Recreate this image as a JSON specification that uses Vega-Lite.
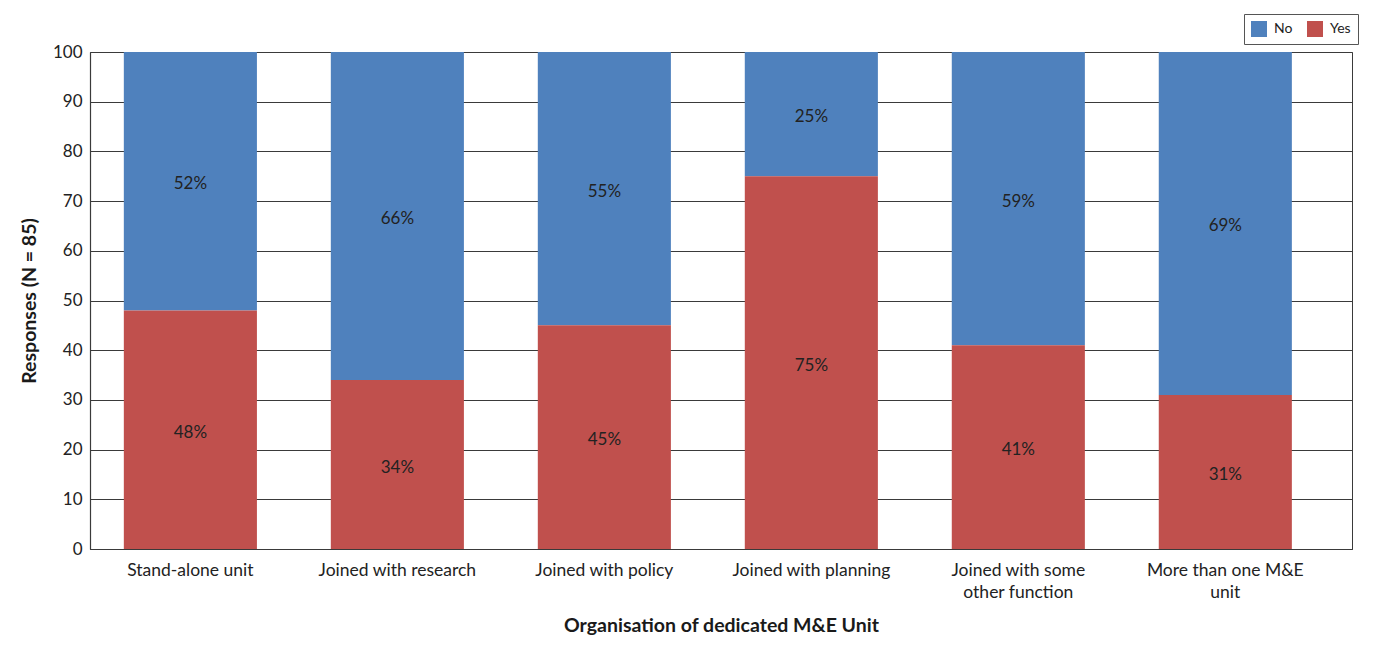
{
  "$schema": "https://vega.github.io/schema/vega-lite/v6.json",
  "width": 1262,
  "height": 497,
  "autosize": {"type": "none"},
  "padding": {"left": 90, "top": 52, "right": 21, "bottom": 103},
  "background": "white",
  "config": {
    "font": "Lato",
    "view": {"stroke": "#3a3a3a", "strokeWidth": 1}
  },
  "data": {
    "values": [
      {"unit": "Stand-alone unit", "response": "No", "value": 52},
      {"unit": "Stand-alone unit", "response": "Yes", "value": 48},
      {"unit": "Joined with research", "response": "No", "value": 66},
      {"unit": "Joined with research", "response": "Yes", "value": 34},
      {"unit": "Joined with policy", "response": "No", "value": 55},
      {"unit": "Joined with policy", "response": "Yes", "value": 45},
      {"unit": "Joined with planning", "response": "No", "value": 25},
      {"unit": "Joined with planning", "response": "Yes", "value": 75},
      {"unit": "Joined with some other function", "response": "No", "value": 59},
      {"unit": "Joined with some other function", "response": "Yes", "value": 41},
      {"unit": "More than one M&E unit", "response": "No", "value": 69},
      {"unit": "More than one M&E unit", "response": "Yes", "value": 31}
    ]
  },
  "transform": [
    {
      "stack": "value",
      "groupby": ["unit"],
      "sort": [{"field": "response", "order": "descending"}],
      "as": ["v0", "v1"]
    },
    {"calculate": "(datum.v0 + datum.v1) / 2", "as": "mid"},
    {"calculate": "datum.value + '%'", "as": "label"}
  ],
  "encoding": {
    "x": {
      "field": "unit",
      "type": "nominal",
      "sort": null,
      "scale": {"paddingInner": 0.357, "paddingOuter": 0.227, "align": 0.36},
      "axis": {
        "title": "Organisation of dedicated M&E Unit",
        "titleFont": "Lato",
        "titleFontSize": 19.5,
        "titleFontWeight": "bold",
        "titleColor": "#1a1a1a",
        "titlePadding": 16,
        "labelAngle": 0,
        "labelFontSize": 17.5,
        "labelColor": "#222222",
        "labelPadding": 12,
        "labelLineHeight": 22,
        "labelLimit": 300,
        "labelExpr": "datum.label == 'Joined with some other function' ? ['Joined with some', 'other function'] : datum.label == 'More than one M&E unit' ? ['More than one M&E', 'unit'] : datum.label",
        "ticks": false,
        "domainColor": "#3a3a3a",
        "domainWidth": 1.2,
        "grid": false
      }
    }
  },
  "layer": [
    {
      "mark": {"type": "bar", "stroke": null},
      "encoding": {
        "y": {
          "field": "v0",
          "type": "quantitative",
          "scale": {"domain": [0, 100], "nice": false},
          "axis": {
            "title": "Responses (N = 85)",
            "titleFont": "Lato",
            "titleFontSize": 19.5,
            "titleFontWeight": "bold",
            "titleColor": "#1a1a1a",
            "titlePadding": 13,
            "values": [0, 10, 20, 30, 40, 50, 60, 70, 80, 90, 100],
            "labelFontSize": 17,
            "labelColor": "#222222",
            "labelPadding": 8,
            "ticks": false,
            "domainColor": "#3a3a3a",
            "domainWidth": 1.2,
            "grid": true,
            "gridColor": "#3a3a3a",
            "gridWidth": 1,
            "gridOpacity": 1
          }
        },
        "y2": {"field": "v1"},
        "color": {
          "field": "response",
          "type": "nominal",
          "scale": {"domain": ["No", "Yes"], "range": ["#4F81BD", "#C0504D"]},
          "legend": {
            "title": null,
            "orient": "none",
            "direction": "horizontal",
            "legendX": 1154,
            "legendY": -38,
            "padding": 7,
            "strokeColor": "#555555",
            "fillColor": "white",
            "symbolType": "square",
            "symbolSize": 256,
            "symbolStrokeWidth": 0,
            "symbolOpacity": 1,
            "labelFontSize": 14,
            "labelColor": "#222222",
            "labelOffset": 7,
            "columnPadding": 14
          }
        }
      }
    },
    {
      "mark": {"type": "text", "fontSize": 17, "color": "#222222", "baseline": "middle", "align": "center", "dy": 3},
      "encoding": {
        "y": {"field": "mid", "type": "quantitative"},
        "text": {"field": "label", "type": "nominal"}
      }
    }
  ]
}
